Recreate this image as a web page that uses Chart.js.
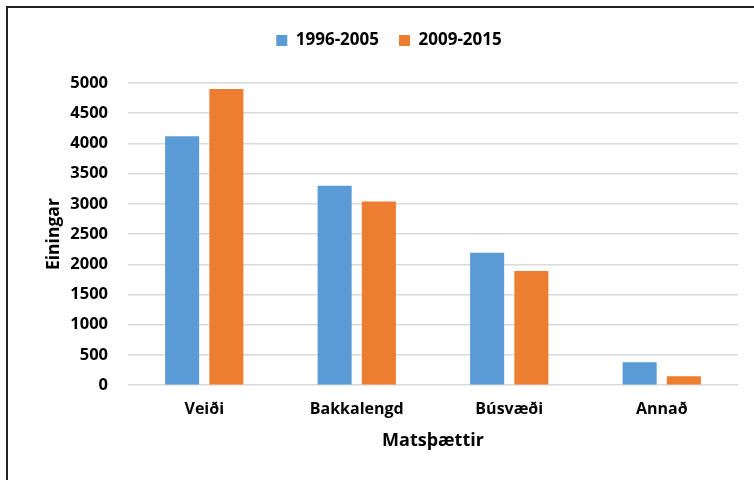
<!DOCTYPE html>
<html>
<head>
<meta charset="utf-8">
<script src="https://cdn.jsdelivr.net/npm/chart.js@4.4.0/dist/chart.umd.min.js"></script>
<style>
  body { margin: 0; background: #fff; }
  #wrap { position: relative; width: 754px; height: 480px; overflow: hidden; }
  #frame { position: absolute; left: 6px; top: 6px; width: 800px; height: 600px;
           border-left: 2px solid #222; border-top: 2px solid #222; }
  canvas { position: absolute; left: 0; top: 0; }
</style>
</head>
<body>
<div id="wrap">
  <div id="frame"></div>
  <canvas id="chart" width="754" height="480"></canvas>
</div>
<script>
const categories = ['Veiði', 'Bakkalengd', 'Búsvæði', 'Annað'];
const series1996 = [4120, 3300, 2190, 380];
const series2009 = [4900, 3040, 1890, 150];
const yTicks = [0, 500, 1000, 1500, 2000, 2500, 3000, 3500, 4000, 4500, 5000];

const fontFamily = "'Open Sans', 'Noto Sans', sans-serif";

// push the plot area down below the legend
const legendGap = {
    id: 'legendGap',
    beforeInit(chart) {
        const fit = chart.legend.fit;
        chart.legend.fit = function () {
            fit.bind(chart.legend)();
            this.height += 24;
        };
    }
};

new Chart(document.getElementById('chart').getContext('2d'), {
    type: 'bar',
    data: {
        labels: categories,
        datasets: [
            { label: '1996-2005', data: series1996, backgroundColor: '#5b9bd5' },
            { label: '2009-2015', data: series2009, backgroundColor: '#ed7d31' }
        ]
    },
    plugins: [legendGap],
    options: {
        responsive: false,
        animation: false,
        devicePixelRatio: 1,
        categoryPercentage: 0.58,
        barPercentage: 0.77,
        layout: { padding: { left: 40, right: 16, top: 12, bottom: 24 } },
        plugins: {
            legend: {
                position: 'top',
                labels: {
                    boxWidth: 11, boxHeight: 11, padding: 20,
                    color: '#000',
                    font: { family: fontFamily, size: 17, weight: 'bold' }
                }
            },
            tooltip: { enabled: false }
        },
        scales: {
            x: {
                grid: { display: false },
                border: { display: false },
                ticks: { color: '#000', padding: 7, font: { family: fontFamily, size: 16, weight: 'bold' } },
                title: { display: true, text: 'Matsþættir', color: '#000', padding: { top: 4 },
                         font: { family: fontFamily, size: 18, weight: 'bold' } }
            },
            y: {
                min: 0, max: 5000,
                afterBuildTicks: axis => { axis.ticks = yTicks.map(v => ({ value: v })); },
                afterFit: axis => { axis.width = 88; },
                grid: { color: '#d9d9d9', lineWidth: 1.5, drawTicks: false },
                border: { display: false },
                ticks: { color: '#000', padding: 20, callback: v => String(v),
                         font: { family: fontFamily, size: 16.5, weight: 'bold' } },
                title: { display: true, text: 'Einingar', color: '#000', padding: { bottom: 0 },
                         font: { family: fontFamily, size: 17.5, weight: 'bold' } }
            }
        }
    }
});
</script>
</body>
</html>
